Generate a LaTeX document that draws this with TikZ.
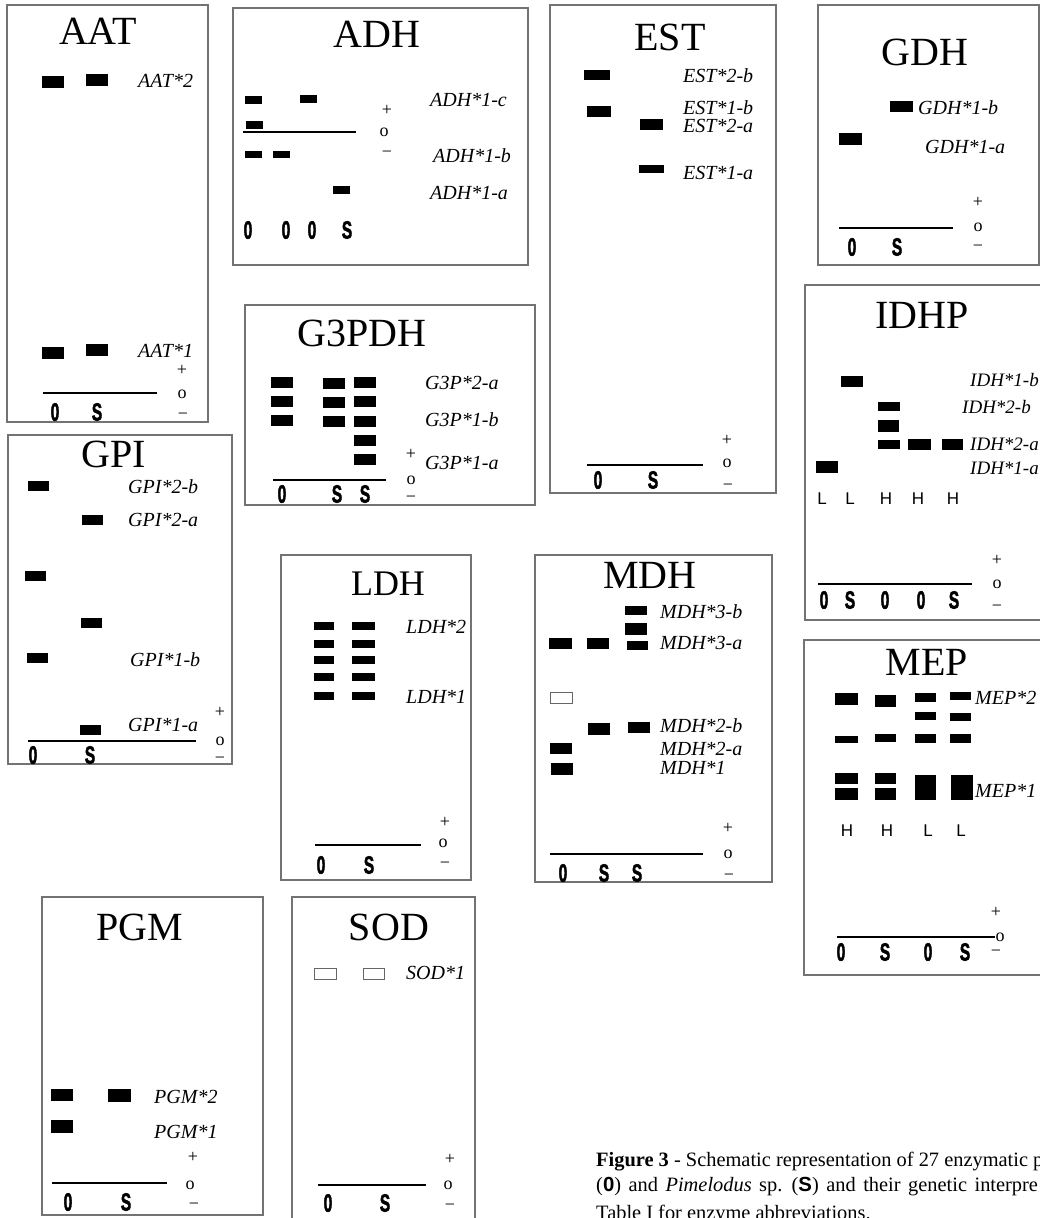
\documentclass[tikz,border=0pt]{standalone}
\usepackage{fontspec}
\setmainfont{Liberation Serif}
\setsansfont{Liberation Sans}
\newfontfamily\smpfont[BoldFeatures={FakeBold=2.5}]{Liberation Sans}
\usepackage{tikz}
\usetikzlibrary{positioning}
\newcommand{\smp}[1]{\scalebox{0.62}[1]{\smpfont\bfseries #1}}
\tikzset{
  gelbox/.style={draw=black!55, line width=1.1pt},
  title/.style={font=\fontsize{40}{40}\selectfont, inner sep=0pt},
  band/.style={rectangle, fill=black, inner sep=0pt, minimum width=22pt, minimum height=11pt},
  faint/.style={rectangle, draw=black!60, fill=white, line width=0.7pt, inner sep=0pt,
                minimum width=21pt, minimum height=10pt},
  locus/.style={font=\fontsize{20}{20}\selectfont\itshape, anchor=west, inner sep=0pt},
  pole/.style={font=\fontsize{18}{18}\selectfont, inner sep=0pt},
  origin/.style={line width=1.8pt},
  sample/.style={font=\fontsize{25}{25}\selectfont, inner sep=0pt},
  pheno/.style={font=\sffamily\fontsize{17}{17}\selectfont, inner sep=0pt},
  caption/.style={font=\fontsize{20.4}{20.4}\selectfont, anchor=base west, inner sep=0pt},
}

\begin{document}
\begin{tikzpicture}[x=1pt, y=-1pt]
  \useasboundingbox (0,0) rectangle (1040,1218);
  \clip (0,0) rectangle (1040,1218);
  % AAT
  \draw[gelbox] (7,5) rectangle (208,422);
  \node[title] (aat) at (98,31) {AAT};
  \node[band, minimum height=12pt] (aat-o2) at (53,82) {};
  \node[band, minimum height=12pt] (aat-s2) at (96.5,80) {};
  \node[band, minimum height=12pt] (aat-o1) at (53,353) {};
  \node[band, minimum height=12pt] (aat-s1) at (96.5,350) {};
  \node[locus] (aat-l2) at (138,81) {AAT*2};
  \node[locus] (aat-l1) at (138,351) {AAT*1};
  \node[pole] (aat-p) at (182,370) {+};
  \node[pole] (aat-z) at (182,394) {o};
  \node[pole] (aat-m) at (183,416) {−};
  \draw[origin] (43,393) -- (157,393);
  \node[sample] (aat-so) at (55,412) {\smp{0}};
  \node[sample] (aat-ss) at (97,412) {\smp{S}};
  % ADH
  \draw[gelbox] (233,8) rectangle (528,265);
  \node[title] (adh) at (377,34) {ADH};
  \node[band, minimum width=17pt, minimum height=8pt] (adh-c1) at (253.5,99.5) {};
  \node[band, minimum width=17pt, minimum height=8pt] (adh-c3) at (308.5,99) {};
  \node[band, minimum width=17pt, minimum height=8pt] (adh-x1) at (254.5,125) {};
  \node[band, minimum width=17pt, minimum height=7pt] (adh-b1) at (253.5,154.5) {};
  \node[band, minimum width=17pt, minimum height=7pt] (adh-b2) at (281,154.5) {};
  \node[band, minimum width=17pt, minimum height=8pt] (adh-a4) at (341.5,190) {};
  \draw[origin] (243,132) -- (356,132);
  \node[locus] (adh-lc) at (430,100) {ADH*1-c};
  \node[locus] (adh-lb) at (433,156) {ADH*1-b};
  \node[locus] (adh-la) at (430,193) {ADH*1-a};
  \node[pole] (adh-p) at (387,110) {+};
  \node[pole] (adh-z) at (384,132) {o};
  \node[pole] (adh-m) at (387,154) {−};
  \node[sample] (adh-s1) at (248,230) {\smp{0}};
  \node[sample] (adh-s2) at (286,230) {\smp{0}};
  \node[sample] (adh-s3) at (312,230) {\smp{0}};
  \node[sample] (adh-s4) at (347,230) {\smp{S}};
  % EST
  \draw[gelbox] (550,5) rectangle (776,493);
  \node[title] (est) at (670,37) {EST};
  \node[band, minimum width=26pt, minimum height=10pt] (est-2b) at (597,75) {};
  \node[band, minimum width=24pt] (est-1b) at (599,111.5) {};
  \node[band, minimum width=23pt] (est-2a) at (651.5,124.5) {};
  \node[band, minimum width=25pt, minimum height=8pt] (est-1a) at (651.5,169) {};
  \node[locus] (est-l2b) at (683,76) {EST*2-b};
  \node[locus] (est-l1b) at (683,108) {EST*1-b};
  \node[locus] (est-l2a) at (683,126) {EST*2-a};
  \node[locus] (est-l1a) at (683,173) {EST*1-a};
  \node[pole] (est-p) at (727,440) {+};
  \node[pole] (est-z) at (727,463) {o};
  \node[pole] (est-m) at (728,487) {−};
  \draw[origin] (587,465) -- (703,465);
  \node[sample] (est-so) at (598,480) {\smp{0}};
  \node[sample] (est-ss) at (653,480) {\smp{S}};
  % GDH
  \draw[gelbox] (818,5) rectangle (1039,265);
  \node[title] (gdh) at (925,52) {GDH};
  \node[band, minimum width=23pt] (gdh-b) at (901.5,106.5) {};
  \node[band, minimum width=23pt, minimum height=12pt] (gdh-a) at (850.5,139) {};
  \node[locus] (gdh-lb) at (918,108) {GDH*1-b};
  \node[locus] (gdh-la) at (925,147) {GDH*1-a};
  \node[pole] (gdh-p) at (978,202) {+};
  \node[pole] (gdh-z) at (978,227) {o};
  \node[pole] (gdh-m) at (978,248) {−};
  \draw[origin] (839,228) -- (953,228);
  \node[sample] (gdh-so) at (852,247) {\smp{0}};
  \node[sample] (gdh-ss) at (897,247) {\smp{S}};
  % IDHP
  \draw[gelbox] (805,285) rectangle (1050,620);
  \node[title] (idhp) at (922,315) {IDHP};
  \node[band] (idh-b2) at (852,381.5) {};
  \node[band, minimum height=9pt] (idh-h1) at (889,406.5) {};
  \node[band, minimum width=21pt, minimum height=12pt] (idh-h2) at (888.5,426) {};
  \node[band, minimum height=9pt] (idh-h3) at (889,444.5) {};
  \node[band, minimum width=23pt] (idh-h4) at (919.5,444.5) {};
  \node[band, minimum width=21pt] (idh-h5) at (952.5,444.5) {};
  \node[band, minimum height=12pt] (idh-l1) at (827,467) {};
  \node[locus, font=\fontsize{19}{19}\selectfont\itshape] (idh-l1b) at (970,380) {IDH*1-b};
  \node[locus, font=\fontsize{19}{19}\selectfont\itshape] (idh-l2b) at (962,407) {IDH*2-b};
  \node[locus, font=\fontsize{19}{19}\selectfont\itshape] (idh-l2a) at (970,444) {IDH*2-a};
  \node[locus, font=\fontsize{19}{19}\selectfont\itshape] (idh-l1a) at (970,468) {IDH*1-a};
  \node[pheno] (idh-f1) at (822,499) {L};
  \node[pheno] (idh-f2) at (850,499) {L};
  \node[pheno] (idh-f3) at (886,499) {H};
  \node[pheno] (idh-f4) at (918,499) {H};
  \node[pheno] (idh-f5) at (953,499) {H};
  \node[pole] (idh-p) at (997,560) {+};
  \node[pole] (idh-z) at (997,584) {o};
  \node[pole] (idh-m) at (997,608) {−};
  \draw[origin] (818,584) -- (972,584);
  \node[sample] (idh-s1) at (824,600) {\smp{0}};
  \node[sample] (idh-s2) at (850,600) {\smp{S}};
  \node[sample] (idh-s3) at (885,600) {\smp{0}};
  \node[sample] (idh-s4) at (921,600) {\smp{0}};
  \node[sample] (idh-s5) at (954,600) {\smp{S}};
  % G3PDH
  \draw[gelbox] (245,305) rectangle (535,505);
  \node[title] (g3p) at (362,333) {G3PDH};
  \node[band] (g3p-o1) at (282,382.5) {};
  \node[band] (g3p-o2) at (282,401.5) {};
  \node[band] (g3p-o3) at (282,420) {};
  \node[band] (g3p-s1) at (334,383) {};
  \node[band] (g3p-s2) at (334,402) {};
  \node[band] (g3p-s3) at (334,421) {};
  \node[band] (g3p-t1) at (365,382.5) {};
  \node[band] (g3p-t2) at (365,401.5) {};
  \node[band] (g3p-t3) at (365,421.5) {};
  \node[band] (g3p-t4) at (365,440.5) {};
  \node[band] (g3p-t5) at (365,459) {};
  \node[locus] (g3p-l2a) at (425,383) {G3P*2-a};
  \node[locus] (g3p-l1b) at (425,420) {G3P*1-b};
  \node[locus] (g3p-l1a) at (425,463) {G3P*1-a};
  \node[pole] (g3p-p) at (411,454) {+};
  \node[pole] (g3p-z) at (411,480) {o};
  \node[pole] (g3p-m) at (411,499) {−};
  \draw[origin] (273,480) -- (386,480);
  \node[sample] (g3p-so) at (282,494) {\smp{0}};
  \node[sample] (g3p-ss1) at (337,494) {\smp{S}};
  \node[sample] (g3p-ss2) at (365,494) {\smp{S}};
  % GPI
  \draw[gelbox] (8,435) rectangle (232,764);
  \node[title] (gpi) at (114,454) {GPI};
  \node[band, minimum width=21pt, minimum height=10pt] (gpi-2b) at (38.5,486) {};
  \node[band, minimum width=21pt, minimum height=10pt] (gpi-2a) at (92.5,519.5) {};
  \node[band, minimum width=21pt, minimum height=10pt] (gpi-x1) at (35,576) {};
  \node[band, minimum width=21pt, minimum height=10pt] (gpi-x2) at (91,623) {};
  \node[band, minimum width=21pt, minimum height=10pt] (gpi-1b) at (37.5,658) {};
  \node[band, minimum width=21pt, minimum height=10pt] (gpi-1a) at (90.5,729.5) {};
  \node[locus] (gpi-l2b) at (128,487) {GPI*2-b};
  \node[locus] (gpi-l2a) at (128,520) {GPI*2-a};
  \node[locus] (gpi-l1b) at (130,660) {GPI*1-b};
  \node[locus] (gpi-l1a) at (128,725) {GPI*1-a};
  \node[pole] (gpi-p) at (220,712) {+};
  \node[pole] (gpi-z) at (220,741) {o};
  \node[pole] (gpi-m) at (220,760) {−};
  \draw[origin] (28,741) -- (196,741);
  \node[sample] (gpi-so) at (33,755) {\smp{0}};
  \node[sample] (gpi-ss) at (90,755) {\smp{S}};
  % LDH
  \draw[gelbox] (281,555) rectangle (471,880);
  \node[title, font=\fontsize{36}{36}\selectfont] (ldh) at (388,584) {LDH};
  \node[band, minimum width=20pt, minimum height=8pt] (ldh-o1) at (324,626) {};
  \node[band, minimum width=20pt, minimum height=8pt] (ldh-o2) at (324,643.5) {};
  \node[band, minimum width=20pt, minimum height=8pt] (ldh-o3) at (324,660) {};
  \node[band, minimum width=20pt, minimum height=8pt] (ldh-o4) at (324,677) {};
  \node[band, minimum width=20pt, minimum height=8pt] (ldh-o5) at (324,695.5) {};
  \node[band, minimum width=23pt, minimum height=8pt] (ldh-s1) at (363.5,626) {};
  \node[band, minimum width=23pt, minimum height=8pt] (ldh-s2) at (363.5,643.5) {};
  \node[band, minimum width=23pt, minimum height=8pt] (ldh-s3) at (363.5,660) {};
  \node[band, minimum width=23pt, minimum height=8pt] (ldh-s4) at (363.5,677) {};
  \node[band, minimum width=23pt, minimum height=8pt] (ldh-s5) at (363.5,695.5) {};
  \node[locus] (ldh-l2) at (406,627) {LDH*2};
  \node[locus] (ldh-l1) at (406,697) {LDH*1};
  \node[pole] (ldh-p) at (445,822) {+};
  \node[pole] (ldh-z) at (443,843) {o};
  \node[pole] (ldh-m) at (445,865) {−};
  \draw[origin] (315,845) -- (421,845);
  \node[sample] (ldh-so) at (321,865) {\smp{0}};
  \node[sample] (ldh-ss) at (369,865) {\smp{S}};
  % MDH
  \draw[gelbox] (535,555) rectangle (772,882);
  \node[title] (mdh) at (650,575) {MDH};
  \node[band, minimum height=9pt] (mdh-t1) at (636,610.5) {};
  \node[band, minimum height=12pt] (mdh-t2) at (636,629) {};
  \node[band, minimum width=21pt, minimum height=9pt] (mdh-t3) at (637.5,645.5) {};
  \node[band, minimum width=23pt] (mdh-o3) at (560.5,643.5) {};
  \node[band] (mdh-s3) at (598,643.5) {};
  \node[faint, minimum width=22pt, minimum height=11pt] (mdh-ox) at (561,697.5) {};
  \node[band, minimum height=12pt] (mdh-s2) at (599,728.5) {};
  \node[band] (mdh-t2b) at (639,727.5) {};
  \node[band] (mdh-o2) at (561,748.5) {};
  \node[band, minimum height=12pt] (mdh-o1) at (562,769) {};
  \node[locus] (mdh-l3b) at (660,612) {MDH*3-b};
  \node[locus] (mdh-l3a) at (660,643) {MDH*3-a};
  \node[locus] (mdh-l2b) at (660,726) {MDH*2-b};
  \node[locus] (mdh-l2a) at (660,749) {MDH*2-a};
  \node[locus] (mdh-l1) at (660,768) {MDH*1};
  \node[pole] (mdh-p) at (728,828) {+};
  \node[pole] (mdh-z) at (728,854) {o};
  \node[pole] (mdh-m) at (729,877) {−};
  \draw[origin] (550,854) -- (703,854);
  \node[sample] (mdh-so) at (563,873) {\smp{0}};
  \node[sample] (mdh-ss1) at (604,873) {\smp{S}};
  \node[sample] (mdh-ss2) at (637,873) {\smp{S}};
  % MEP
  \draw[gelbox] (804,640) rectangle (1050,975);
  \node[title] (mep) at (927,662) {MEP};
  \node[band, minimum width=23pt, minimum height=12pt] (mep-a1) at (846.5,699) {};
  \node[band, minimum width=21pt, minimum height=12pt] (mep-a2) at (885.5,701) {};
  \node[band, minimum width=21pt, minimum height=9pt] (mep-a3) at (925.5,697.5) {};
  \node[band, minimum width=21pt, minimum height=8pt] (mep-a4) at (960.5,696) {};
  \node[band, minimum width=21pt, minimum height=8pt] (mep-b3) at (925.5,716) {};
  \node[band, minimum width=21pt, minimum height=8pt] (mep-b4) at (960.5,717) {};
  \node[band, minimum width=23pt, minimum height=7pt] (mep-c1) at (846.5,739.5) {};
  \node[band, minimum width=21pt, minimum height=8pt] (mep-c2) at (885.5,738) {};
  \node[band, minimum width=21pt, minimum height=9pt] (mep-c3) at (925.5,738) {};
  \node[band, minimum width=21pt, minimum height=9pt] (mep-c4) at (960.5,738) {};
  \node[band, minimum width=23pt] (mep-d1) at (846.5,778.5) {};
  \node[band, minimum width=23pt, minimum height=12pt] (mep-e1) at (846.5,794) {};
  \node[band, minimum width=21pt] (mep-d2) at (885.5,778.5) {};
  \node[band, minimum width=21pt, minimum height=12pt] (mep-e2) at (885.5,794) {};
  \node[band, minimum width=21pt, minimum height=25pt] (mep-d3) at (925.5,787.5) {};
  \node[band, minimum width=22pt, minimum height=25pt] (mep-d4) at (962,787.5) {};
  \node[locus] (mep-l2) at (975,698) {MEP*2};
  \node[locus] (mep-l1) at (975,791) {MEP*1};
  \node[pheno] (mep-f1) at (847,831) {H};
  \node[pheno] (mep-f2) at (887,831) {H};
  \node[pheno] (mep-f3) at (928,831) {L};
  \node[pheno] (mep-f4) at (961,831) {L};
  \node[pole] (mep-p) at (996,912) {+};
  \node[pole] (mep-z) at (1000,937) {o};
  \node[pole] (mep-m) at (996,953) {−};
  \draw[origin] (837,937) -- (mep-z.west);
  \node[sample] (mep-s1) at (841,952) {\smp{0}};
  \node[sample] (mep-s2) at (885,952) {\smp{S}};
  \node[sample] (mep-s3) at (928,952) {\smp{0}};
  \node[sample] (mep-s4) at (965,952) {\smp{S}};
  % PGM
  \draw[gelbox] (42,897) rectangle (263,1215);
  \node[title] (pgm) at (140,927) {PGM};
  \node[band, minimum height=12pt] (pgm-o2) at (62,1095) {};
  \node[band, minimum width=23pt, minimum height=13pt] (pgm-s2) at (119.5,1095) {};
  \node[band, minimum height=13pt] (pgm-o1) at (62,1126.5) {};
  \node[locus] (pgm-l2) at (154,1097) {PGM*2};
  \node[locus] (pgm-l1) at (154,1132) {PGM*1};
  \node[pole] (pgm-p) at (193,1157) {+};
  \node[pole] (pgm-z) at (190,1185) {o};
  \node[pole] (pgm-m) at (194,1206) {−};
  \draw[origin] (52,1183) -- (167,1183);
  \node[sample] (pgm-so) at (68,1202) {\smp{0}};
  \node[sample] (pgm-ss) at (126,1202) {\smp{S}};
  % SOD
  \draw[gelbox] (292,897) rectangle (475,1230);
  \node[title] (sod) at (389,927) {SOD};
  \node[faint, minimum width=22pt, minimum height=11pt] (sod-o1) at (325,973.5) {};
  \node[faint, minimum width=21pt, minimum height=11pt] (sod-s1) at (373.5,973.5) {};
  \node[locus] (sod-l1) at (406,973) {SOD*1};
  \node[pole] (sod-p) at (450,1159) {+};
  \node[pole] (sod-z) at (448,1185) {o};
  \node[pole] (sod-m) at (450,1207) {−};
  \draw[origin] (318,1185) -- (426,1185);
  \node[sample] (sod-so) at (328,1203) {\smp{0}};
  \node[sample] (sod-ss) at (385,1203) {\smp{S}};
  % Caption
  \node[caption] (cap1) at (596,1166) {\textbf{Figure 3} - Schematic representation of 27 enzymatic p};
  \node[caption] (cap2) at (596,1191) {\spaceskip=7.5pt (\textbf{\sffamily 0}) and \textit{Pimelodus} sp. (\textbf{\sffamily S}) and their genetic interpre};
  \node[caption] (cap3) at (596,1219) {Table I for enzyme abbreviations.};
\end{tikzpicture}
\end{document}
